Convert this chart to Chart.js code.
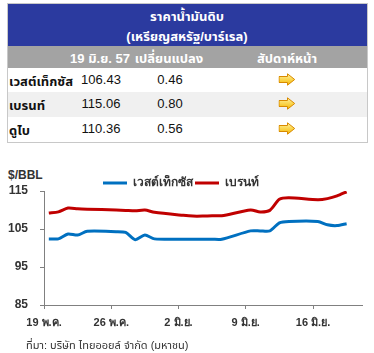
<!DOCTYPE html>
<html>
<head>
<meta charset="utf-8">
<script src="https://cdn.jsdelivr.net/npm/chart.js@4.4.1/dist/chart.umd.min.js"></script>
<style>
  html, body { margin: 0; padding: 0; background: #fff; }
  body { width: 374px; height: 353px; position: relative; overflow: hidden;
         font-family: "Liberation Sans", Arial, "Noto Sans Thai", "Loma", "Garuda", sans-serif; }
  .abs { position: absolute; white-space: nowrap; }
  .c { transform: translateX(-50%); }
  .hdr { color: #fff; font-weight: bold; font-size: 13px; }
  .cell { font-size: 13px; color: #111; }
  #chartWrap { position: absolute; left: 0; top: 150px; width: 374px; height: 203px; }
</style>
</head>
<body>
<div id="layer"></div>
<div class="abs" style="left:8px; top:168px; font-size:12px; font-weight:bold; color:#333;">$/BBL</div>
<div id="chartWrap"><canvas id="c" width="374" height="203"></canvas></div>
<div class="abs" style="left:26px; top:337px; font-size:11px; color:#333;">ที่มา: บริษัท ไทยออยล์ จำกัด (มหาชน)</div>
<script>
// ---- table data ----
const tableTitle = ['ราคาน้ำมันดิบ', '(เหรียญสหรัฐ/บาร์เรล)'];
const tableHeaders = ['19 มิ.ย. 57', 'เปลี่ยนแปลง', 'สัปดาห์หน้า'];
const tableNames = ['เวสต์เท็กซัส', 'เบรนท์', 'ดูไบ'];
const tablePrices = ['106.43', '115.06', '110.36'];
const tableChanges = ['0.46', '0.80', '0.56'];

// ---- chart data ----
const seriesNames = ['เวสต์เท็กซัส', 'เบรนท์'];
const tickLabels = ['19 พ.ค.', '26 พ.ค.', '2 มิ.ย.', '9 มิ.ย.', '16 มิ.ย.'];
// trading days, counted in days since 19 May
const tradingDays = [0,1,2,3,4,7,8,9,10,11,14,15,16,17,18,21,22,23,24,25,28,29,30,31];
const wti   = [102.4,102.4,103.7,103.4,104.4,104.3,104.1,102.2,103.4,102.4,102.3,102.3,102.3,102.3,102.3,104.5,104.5,104.5,106.6,107.0,107.0,106.1,105.9,106.4];
const brent = [109.2,109.5,110.5,110.3,110.2,110.0,109.9,109.8,110.0,109.4,108.6,108.4,108.4,108.5,108.5,110.0,109.5,109.9,112.8,113.2,112.7,113.0,113.7,114.8];

// ---- build table ----
const arrowSvg = '<svg width="17" height="13" viewBox="0 0 17 13"><defs><linearGradient id="g" x1="0" y1="0" x2="0" y2="1"><stop offset="0" stop-color="#fff3a0"/><stop offset="1" stop-color="#f5b800"/></linearGradient></defs><path d="M0.5 3.5 H9 V0.8 L16.2 6.5 L9 12.2 V9.5 H0.5 Z" fill="url(#g)" stroke="#d88a00" stroke-width="1"/></svg>';
let h = '';
h += '<div class="abs" style="left:7px;top:3px;width:361px;height:43px;background:#2b3a9f"></div>';
h += '<div class="abs c hdr" style="left:187px;top:7px">' + tableTitle[0] + '</div>';
h += '<div class="abs c hdr" style="left:187px;top:27px">' + tableTitle[1] + '</div>';
h += '<div class="abs" style="left:7px;top:46px;width:361px;height:22px;background:#a3a3a3"></div>';
const hx = [100, 169, 287];
tableHeaders.forEach((t, i) => { h += '<div class="abs c hdr" style="left:' + hx[i] + 'px;top:49px">' + t + '</div>'; });
const rowTop = [68, 92, 117], rowH = [24, 25, 24], rowBg = ['#ffffff', '#f0f0f0', '#ffffff'];
tableNames.forEach((n, i) => {
  h += '<div class="abs" style="left:7px;top:' + rowTop[i] + 'px;width:361px;height:' + rowH[i] + 'px;background:' + rowBg[i] + '"></div>';
  const ty = rowTop[i] + 4;
  h += '<div class="abs cell" style="left:9px;top:' + ty + 'px;font-weight:bold">' + n + '</div>';
  h += '<div class="abs c cell" style="left:101px;top:' + ty + 'px">' + tablePrices[i] + '</div>';
  h += '<div class="abs c cell" style="left:170px;top:' + ty + 'px">' + tableChanges[i] + '</div>';
  h += '<div class="abs c" style="left:287px;top:' + (rowTop[i] + 5) + 'px;line-height:0">' + arrowSvg + '</div>';
});
h += '<div class="abs" style="left:7px;top:3px;width:359px;height:138px;border:1px solid #c8c8c8"></div>';
document.getElementById('layer').innerHTML = h;

// ---- chart ----
const colors = ['#0070c0', '#c00000'];
const seriesValues = [wti, brent];
const datasets = seriesNames.map((name, s) => ({
  label: name,
  data: tradingDays.map((d, i) => ({ x: d + 0.5, y: seriesValues[s][i] })),
  borderColor: colors[s],
  backgroundColor: colors[s],
  borderWidth: 3,
  pointRadius: 0,
  tension: 0.25
}));

// shrink the space the legend reserves, so the plot sits closer under it
const legendTrim = {
  id: 'legendTrim',
  beforeUpdate(chart) {
    const lg = chart.legend;
    if (lg && !lg._trimmed) {
      const origFit = lg.fit.bind(lg);
      lg.fit = function () { origFit(); this.height = Math.max(0, this.height - 8); };
      lg._trimmed = true;
    }
  }
};

new Chart(document.getElementById('c'), {
  type: 'line',
  data: { datasets },
  plugins: [legendTrim],
  options: {
    responsive: false,
    animation: false,
    devicePixelRatio: 1,
    layout: { padding: { left: 0, right: 12, top: 25, bottom: 0 } },
    plugins: {
      tooltip: { enabled: false },
      legend: {
        position: 'top',
        labels: {
          boxWidth: 24, boxHeight: 3, padding: 2,
          color: '#333', font: { size: 12, weight: 'bold', family: '"Liberation Sans", Arial, sans-serif' },
          generateLabels: (chart) => Chart.defaults.plugins.legend.labels.generateLabels(chart)
            .map(l => Object.assign(l, { lineWidth: 0, fillStyle: l.strokeStyle }))
        }
      }
    },
    scales: {
      x: {
        type: 'linear', min: 0, max: 33.1,
        afterFit: (s) => { s.height = 48; },
        grid: { drawOnChartArea: false, drawTicks: true, tickLength: 4, color: '#808080' },
        border: { display: true, color: '#808080', width: 1 },
        ticks: {
          stepSize: 7, includeBounds: false, padding: 7, maxRotation: 0,
          color: '#333', font: { size: 11, weight: 'bold', family: '"Liberation Sans", Arial, sans-serif' },
          callback: (v) => tickLabels[Math.round(v / 7)]
        }
      },
      y: {
        min: 85, max: 115,
        afterFit: (s) => { s.width = 44; },
        grid: { drawOnChartArea: false, drawTicks: true, tickLength: 4, color: '#808080' },
        border: { display: true, color: '#808080', width: 1 },
        ticks: {
          stepSize: 10, padding: 12,
          color: '#333', font: { size: 12, weight: 'bold', family: '"Liberation Sans", Arial, sans-serif' }
        }
      }
    }
  }
});
</script>
</body>
</html>
